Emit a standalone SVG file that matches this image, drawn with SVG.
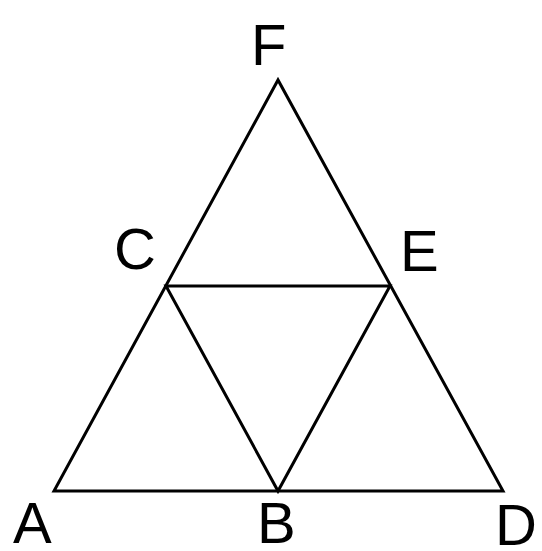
<svg xmlns="http://www.w3.org/2000/svg" width="542" height="551" viewBox="0 0 542 551">
<style>
.l{stroke:#000;stroke-width:3;fill:none;stroke-linejoin:miter;stroke-linecap:round}
.t{font-family:"Liberation Sans",Arial,sans-serif;font-size:58px;fill:#000}
</style>
<rect width="542" height="551" fill="#fff"/>
<g id="connectors">
<polygon class="l" points="54,491 503,491 278,80"/>
<polygon class="l" points="166,286 390,286 278,491"/>
</g>
<g id="F"><text class="t" x="251" y="65">F</text></g>
<g id="C"><text class="t" x="114" y="269">C</text></g>
<g id="E"><text class="t" x="400" y="271">E</text></g>
<g id="A"><text class="t" x="13" y="543">A</text></g>
<g id="B"><text class="t" x="257" y="543">B</text></g>
<g id="D"><text class="t" x="495" y="545">D</text></g>
</svg>
